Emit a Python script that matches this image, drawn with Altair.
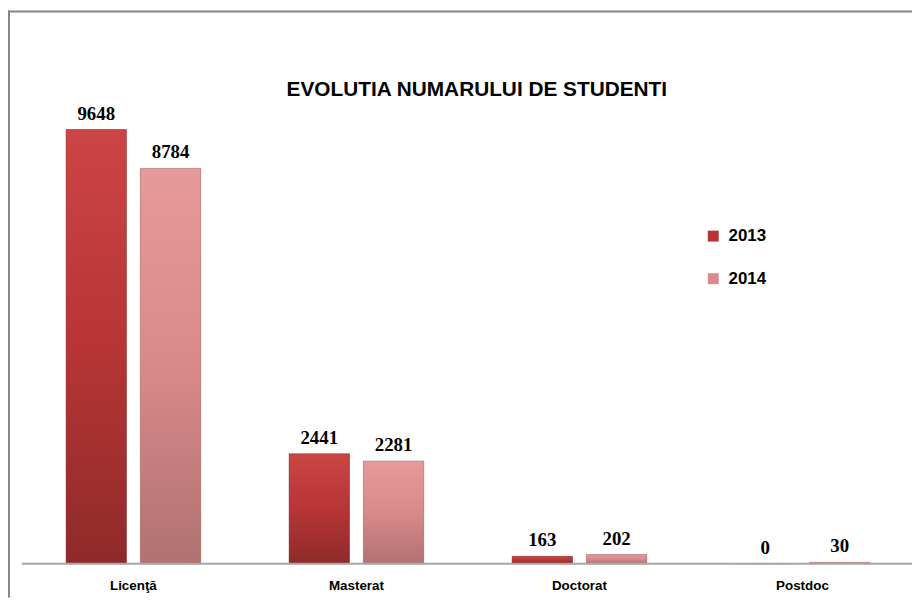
import altair as alt
import pandas as pd

categories = ["Licenţă", "Masterat", "Doctorat", "Postdoc"]
years = ["2013", "2014"]
values_2013 = [9648, 2441, 163, 0]
values_2014 = [8784, 2281, 202, 30]
title_text = "EVOLUTIA NUMARULUI DE STUDENTI"

rows = []
for c, a, b in zip(categories, values_2013, values_2014):
    rows.append({"cat": c, "year": "2013", "value": a})
    rows.append({"cat": c, "year": "2014", "value": b})
df = pd.DataFrame(rows)
cat_df = pd.DataFrame({"cat": categories})

W, H = 912, 592
BASE = 558

xscale = alt.Scale(domain=categories, range=[14, 914], paddingInner=0.396, paddingOuter=0.198)
yscale = alt.Scale(domain=[0, 11000], range=[BASE, BASE - 499.4])
xoff = alt.XOffset("year:N", scale=alt.Scale(domain=years, paddingInner=0.187, paddingOuter=0))

X = alt.X("cat:N", scale=xscale, axis=None, sort=categories)
Y = alt.Y("value:Q", scale=yscale, axis=None)

base = alt.Chart(df)

legend_bars = base.mark_bar().encode(
    x=X, xOffset=xoff, y=Y,
    color=alt.Color("year:N", scale=alt.Scale(domain=years, range=["#B83434", "#D98A8A"]),
                    legend=alt.Legend(title=None, orient="none", legendX=703, legendY=219,
                                      symbolType="square", symbolSize=121, symbolStrokeWidth=0,
                                      labelFont="Liberation Sans", labelFontSize=17,
                                      labelFontWeight="bold", labelColor="#000000",
                                      rowPadding=25, labelOffset=7, padding=0)),
)

def grad(top, mid, bottom):
    return alt.LinearGradient(
        gradient="linear", x1=0, x2=0, y1=0, y2=1,
        stops=[alt.GradientStop(color=top, offset=0),
               alt.GradientStop(color=mid, offset=0.5),
               alt.GradientStop(color=bottom, offset=1)])

bars13 = base.transform_filter(alt.datum.year == "2013").mark_bar(
    fill=grad("#CC4545", "#B73535", "#8F2A2A"), stroke="#8a4a4a", strokeWidth=1, strokeOpacity=0.5
).encode(x=X, xOffset=xoff, y=Y)

bars14 = base.transform_filter(alt.datum.year == "2014").mark_bar(
    fill=grad("#E79A9A", "#D98989", "#B07272"), stroke="#9a7070", strokeWidth=1, strokeOpacity=0.5
).encode(x=X, xOffset=xoff, y=Y)

value_labels = base.mark_text(
    font="Liberation Serif", fontSize=19, fontWeight="bold", color="#000000",
    baseline="middle", dy=-16
).encode(x=X, xOffset=xoff, y=Y, text=alt.Text("value:Q", format="d"))

axis_line = alt.Chart(pd.DataFrame({"v": [0]})).mark_rule(color="#A6A6A6", strokeWidth=2).encode(
    y=alt.Y("v:Q", scale=yscale, axis=None), x=alt.value(14), x2=alt.value(W)
)

cat_labels = alt.Chart(cat_df).mark_text(
    font="Liberation Sans", fontSize=13.5, fontWeight="bold", color="#000000", baseline="middle"
).encode(x=X, y=alt.value(581), text="cat:N")

title = alt.Chart(pd.DataFrame({"t": [title_text]})).mark_text(
    font="Liberation Sans", fontSize=21, fontWeight="bold", color="#000000",
    baseline="middle", align="center"
).encode(x=alt.value(473), y=alt.value(80), text="t:N")

frame_top = alt.Chart(pd.DataFrame({"v": [0]})).mark_rule(color="#868686", strokeWidth=2).encode(
    x=alt.value(0), x2=alt.value(W), y=alt.value(1)
)
frame_left = alt.Chart(pd.DataFrame({"v": [0]})).mark_rule(color="#868686", strokeWidth=2).encode(
    x=alt.value(1), y=alt.value(0), y2=alt.value(H)
)

chart = alt.layer(
    legend_bars, bars13, bars14, value_labels, axis_line, cat_labels, title, frame_top, frame_left
).properties(
    width=W, height=H, padding=0, autosize=alt.AutoSizeParams(type="none"),
    background="#FFFFFF"
).configure_view(stroke=None)

chart.save("out.html", embed_options={"renderer": "svg", "actions": False})
